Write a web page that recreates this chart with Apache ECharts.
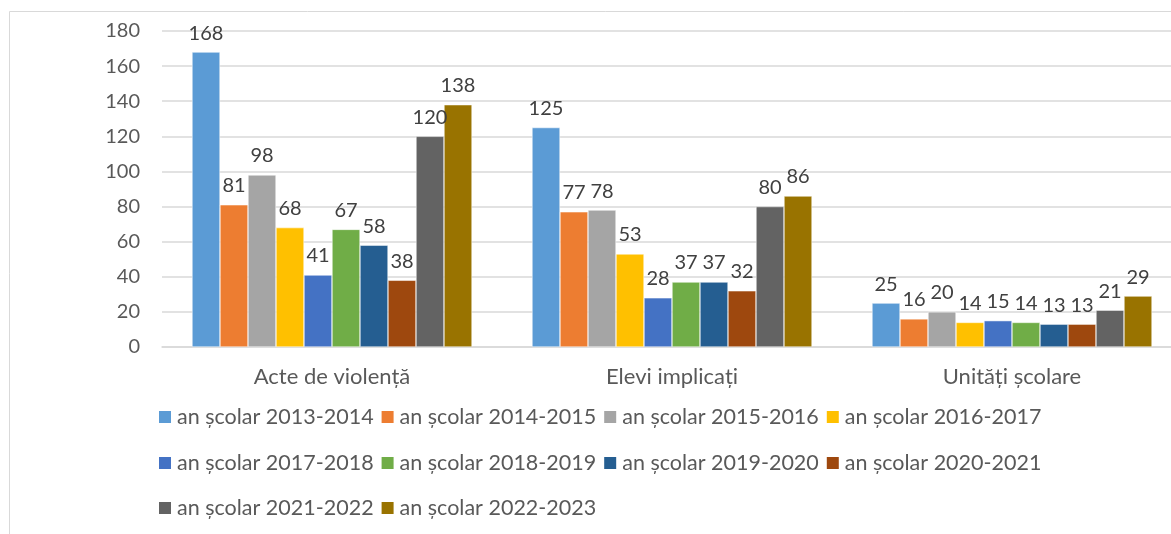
<!DOCTYPE html>
<html>
<head>
    <meta charset="UTF-8">
    <title>acte de violenta</title>
    <script src="https://cdn.jsdelivr.net/npm/echarts@6/dist/echarts.min.js"></script>
    <style>
        body, html {
            margin: 0;
            padding: 0;
            height: 100%;
            width: 100%;
            background: #fff;
            overflow: hidden;
        }

        /* the chart is wider than the window on purpose: the right edge is cut off */
        #chart {
            width: 1200px;
            height: 534px;
        }
    </style>
</head>
<body>
<div id="chart"></div>
<script>
    var categories = ['Acte de violență', 'Elevi implicați', 'Unități școlare'];
    var years = ['an școlar 2013-2014', 'an școlar 2014-2015', 'an școlar 2015-2016', 'an școlar 2016-2017',
        'an școlar 2017-2018', 'an școlar 2018-2019', 'an școlar 2019-2020', 'an școlar 2020-2021',
        'an școlar 2021-2022', 'an școlar 2022-2023'];
    var acte = [168, 81, 98, 68, 41, 67, 58, 38, 120, 138];
    var elevi = [125, 77, 78, 53, 28, 37, 37, 32, 80, 86];
    var unitati = [25, 16, 20, 14, 15, 14, 13, 13, 21, 29];
    var colors = ['#5B9BD5', '#ED7D31', '#A5A5A5', '#FFC000', '#4472C4',
        '#70AD47', '#255E91', '#9E480E', '#636363', '#997300'];

    var font = 'Lato';
    var chart = echarts.init(document.getElementById('chart'), null, {renderer: 'canvas'});

    var series = years.map(function (name, i) {
        return {
            name: name,
            type: 'bar',
            barWidth: 28,
            barGap: '0%',
            itemStyle: {color: colors[i], borderColor: '#fff', borderWidth: 0.5},
            label: {show: true, position: 'top', distance: 9, color: '#404040', fontFamily: font, fontSize: 20},
            data: [acte[i], elevi[i], unitati[i]]
        };
    });

    function legendRow(names, top) {
        return {
            data: names,
            left: 157,
            top: top,
            padding: 0,
            itemWidth: 14,
            itemHeight: 14,
            itemGap: 6,
            icon: 'rect',
            textStyle: {color: '#595959', fontFamily: font, fontSize: 21.5, lineHeight: 24},
            selectedMode: false
        };
    }

    chart.setOption({
        color: colors,
        animation: false,
        graphic: [{
            type: 'rect',
            shape: {x: 9.5, y: 11.5, width: 1250, height: 560},
            style: {fill: 'none', stroke: '#d9d9d9', lineWidth: 1}
        }],
        legend: [
            legendRow(years.slice(0, 4), 405),
            legendRow(years.slice(4, 8), 451),
            legendRow(years.slice(8), 496)
        ],
        grid: {left: 162, top: 31, width: 1020, height: 316, containLabel: false},
        xAxis: {
            type: 'category',
            data: categories,
            axisLine: {lineStyle: {color: '#d9d9d9', width: 1.5}},
            axisTick: {show: false},
            axisLabel: {color: '#595959', fontFamily: font, fontSize: 22, margin: 19}
        },
        yAxis: {
            type: 'value',
            min: 0,
            max: 180,
            interval: 20,
            axisLine: {show: false},
            axisTick: {show: false},
            splitLine: {lineStyle: {color: '#d9d9d9', width: 1.5}},
            axisLabel: {color: '#595959', fontFamily: font, fontSize: 20, margin: 22}
        },
        series: series
    });
</script>
</body>
</html>
